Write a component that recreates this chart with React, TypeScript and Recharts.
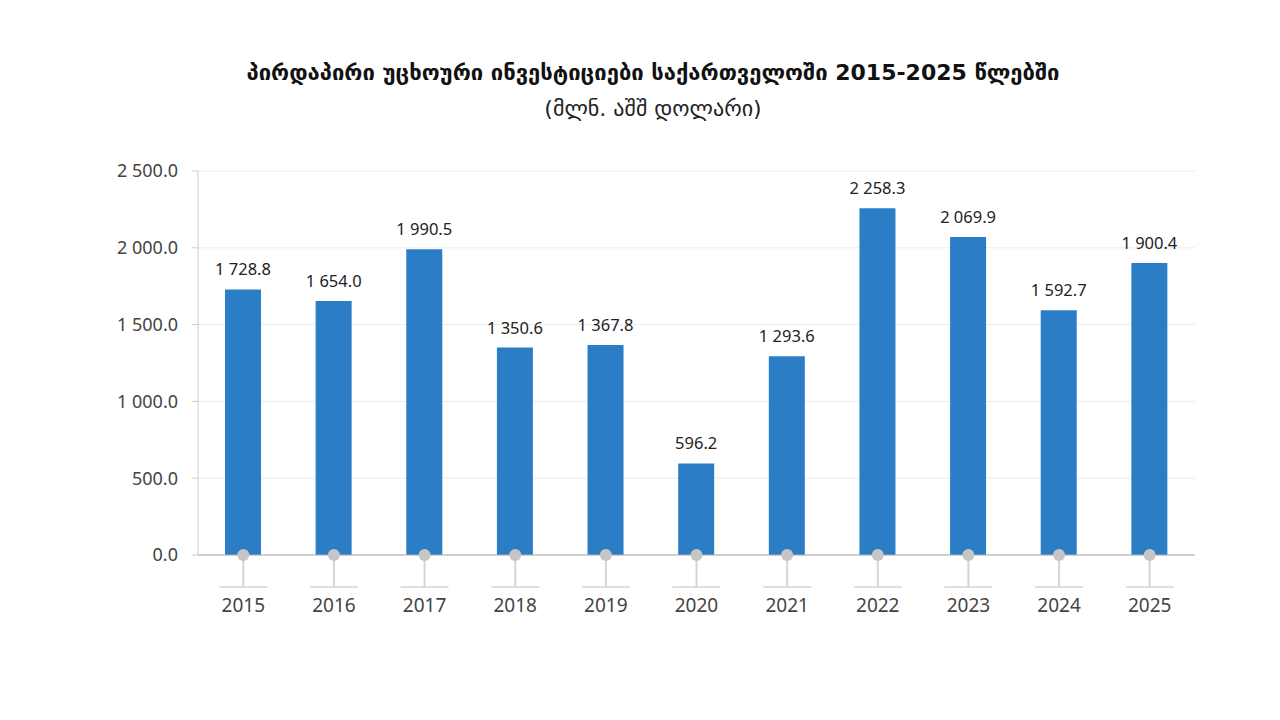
import React from 'react';
import { BarChart, Bar, XAxis, YAxis, CartesianGrid, LabelList } from 'recharts';

const years = ['2015', '2016', '2017', '2018', '2019', '2020', '2021', '2022', '2023', '2024', '2025'];
const fdi = [1728.8, 1654.0, 1990.5, 1350.6, 1367.8, 596.2, 1293.6, 2258.3, 2069.9, 1592.7, 1900.4];
const yTicks = [0, 500, 1000, 1500, 2000, 2500];

const title = 'პირდაპირი უცხოური ინვესტიციები საქართველოში 2015-2025 წლებში';
const subtitle = '(მლნ. აშშ დოლარი)';

const data = years.map((y, i) => ({ year: y, value: fdi[i] }));

const fmt = (v: number) => {
  const s = Number(v).toFixed(1);
  const [int, dec] = s.split('.');
  const withSp = int.replace(/\B(?=(\d{3})+(?!\d))/g, ' ');
  return `${withSp}.${dec}`;
};

const FONT = '"Noto Sans", "Open Sans", sans-serif';

const XTick = (props: any) => {
  const { x, y, payload } = props;
  return (
    <g>
      <line x1={x} y1={y} x2={x} y2={y + 32} stroke="#d4d4d4" strokeWidth={2} />
      <line x1={x - 24} y1={y + 32} x2={x + 24} y2={y + 32} stroke="#d4d4d4" strokeWidth={1.5} />
      <circle cx={x} cy={y} r={6} fill="#c6c6c6" />
      <text x={x} y={y + 57} textAnchor="middle" fontSize={19} fill="#444" fontFamily={FONT}>
        {payload.value}
      </text>
    </g>
  );
};

const ValueLabel = (props: any) => {
  const { x, y, width, value } = props;
  return (
    <text
      x={Number(x) + Number(width) / 2}
      y={Number(y) - 14}
      textAnchor="middle"
      fontSize={16.5}
      fill="#222"
      fontFamily={FONT}
      style={{ whiteSpace: 'pre' }}
    >
      {fmt(value)}
    </text>
  );
};

export default function App() {
  return (
    <div style={{ position: 'absolute', left: 0, top: 0, width: 1280, height: 720, background: '#fff' }}>
      <div
        style={{
          position: 'absolute',
          left: 0,
          width: 1306,
          top: 60,
          textAlign: 'center',
          fontFamily: '"DejaVu Sans", sans-serif',
          fontWeight: 'bold',
          fontSize: 22,
          color: '#111',
        }}
      >
        {title}
      </div>
      <div
        style={{
          position: 'absolute',
          left: 0,
          width: 1306,
          top: 96,
          textAlign: 'center',
          fontFamily: '"DejaVu Sans", sans-serif',
          fontSize: 22,
          color: '#222',
        }}
      >
        {subtitle}
      </div>
      <div style={{ position: 'absolute', left: 0, top: 0 }}>
        <BarChart width={1280} height={720} data={data} margin={{ top: 171, right: 85, bottom: 85, left: 0 }}>
          <CartesianGrid vertical={false} stroke="#ececec" />
          <YAxis
            width={198}
            domain={[0, 2500]}
            ticks={yTicks}
            tickFormatter={fmt}
            axisLine={{ stroke: '#cccccc' }}
            tickLine={{ stroke: '#cccccc' }}
            tickSize={6}
            tickMargin={14}
            tick={{ fontSize: 18, fill: '#444', fontFamily: FONT }}
          />
          <Bar dataKey="value" fill="#2b7ec6" barSize={36} isAnimationActive={false}>
            <LabelList dataKey="value" content={<ValueLabel />} />
          </Bar>
          <XAxis
            dataKey="year"
            height={80}
            axisLine={{ stroke: '#aaaaaa' }}
            tickLine={false}
            tickSize={0}
            tickMargin={0}
            interval={0}
            tick={<XTick />}
          />
        </BarChart>
      </div>
    </div>
  );
}
